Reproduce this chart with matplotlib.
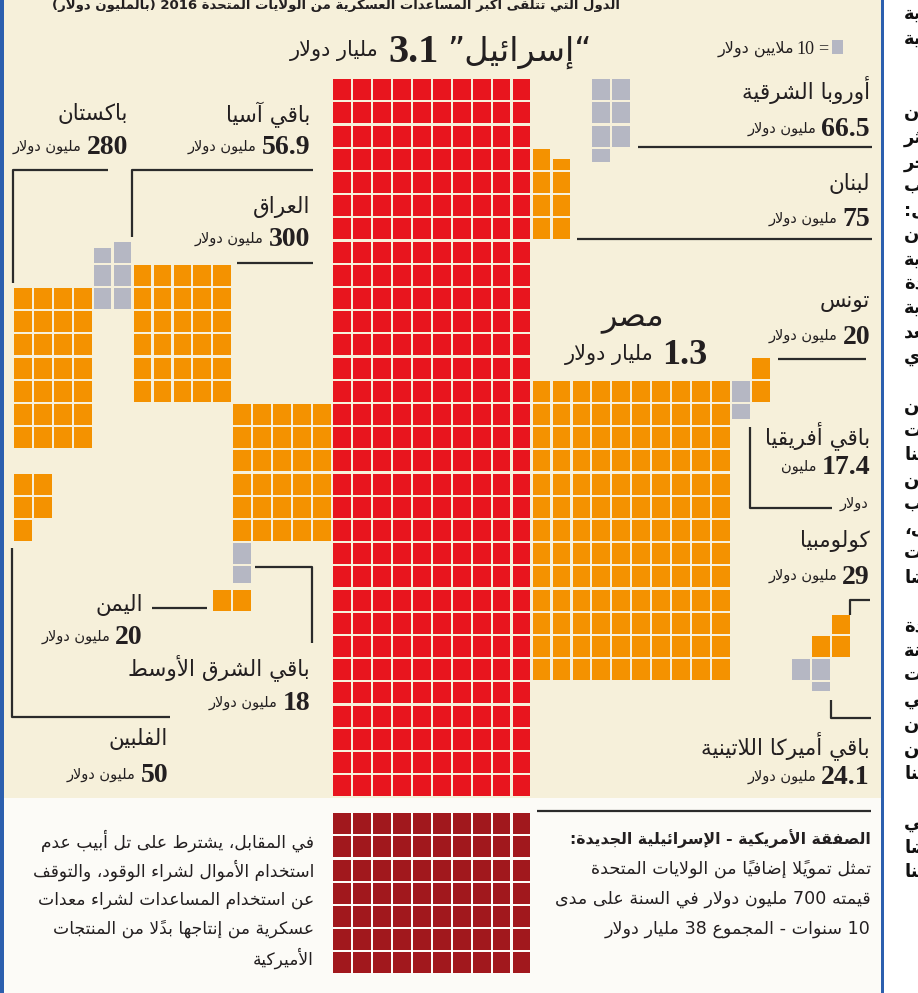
import unicodedata
import numpy as np
import matplotlib
matplotlib.use("Agg")
import matplotlib.pyplot as plt
from matplotlib.patches import Rectangle

# US military aid 2016, million dollars (one square = 10 million)
countries = ["إسرائيل", "مصر", "العراق", "", "باكستان", "لبنان", "أوروبا الشرقية",
             "باقي آسيا", "الفلبين", "كولومبيا", "باقي أميركا اللاتينية", "تونس",
             "اليمن", "باقي الشرق الأوسط", "باقي أفريقيا"]
aid_musd = [3100, 1300, 300, 300, 280, 75, 66.5, 56.9, 50, 29, 24.1, 20, 20, 18, 17.4]
is_region = [0, 0, 0, 0, 0, 0, 1, 1, 0, 0, 1, 0, 0, 1, 1]
new_deal_musd = 700
square_musd = 10

title = "الدول التي تتلقى أكبر المساعدات العسكرية من الولايات المتحدة 2016 (بالمليون دولار)"
deal_title = "الصفقة الأمريكية - الإسرائيلية الجديدة:"
deal_lines = ["تمثل تمويلاً إضافياً من الولايات المتحدة",
              "قيمته 700 مليون دولار في السنة على مدى",
              "10 سنوات - المجموع 38 مليار دولار"]
terms_lines = ["في المقابل، يشترط على تل أبيب عدم",
               "استخدام الأموال لشراء الوقود، والتوقف",
               "عن استخدام المساعدات لشراء معدات",
               "عسكرية من إنتاجها بدلاً من المنتجات",
               "الأميركية"]
# next newspaper column, cut by the page edge
side_words = ["الإسرائيلية", "السنوية", "", "", "إن", "أكثر", "آخر", "كتب", "قال:", "بأن",
              "الأميركية", "الجديدة", "الاتفاقية", "بعد", "العسكري", "", "من", "كانت", "هنا",
              "لكن", "تكتب", "قال،", "كانت", "أيضا", "", "المتحدة", "السنة", "كانت", "التي",
              "إن", "لكن", "هنا", "", "والتي", "أيضا", "هنا"]

# ---------- minimal arabic shaping (matplotlib has no bidi) ----------
FORMS = {'ء': (0xFE80, 1), 'آ': (0xFE81, 2), 'أ': (0xFE83, 2), 'ؤ': (0xFE85, 2),
         'إ': (0xFE87, 2), 'ئ': (0xFE89, 4), 'ا': (0xFE8D, 2), 'ب': (0xFE8F, 4),
         'ة': (0xFE93, 2), 'ت': (0xFE95, 4), 'ث': (0xFE99, 4), 'ج': (0xFE9D, 4),
         'ح': (0xFEA1, 4), 'خ': (0xFEA5, 4), 'د': (0xFEA9, 2), 'ذ': (0xFEAB, 2),
         'ر': (0xFEAD, 2), 'ز': (0xFEAF, 2), 'س': (0xFEB1, 4), 'ش': (0xFEB5, 4),
         'ص': (0xFEB9, 4), 'ض': (0xFEBD, 4), 'ط': (0xFEC1, 4), 'ظ': (0xFEC5, 4),
         'ع': (0xFEC9, 4), 'غ': (0xFECD, 4), 'ف': (0xFED1, 4), 'ق': (0xFED5, 4),
         'ك': (0xFED9, 4), 'ل': (0xFEDD, 4), 'م': (0xFEE1, 4), 'ن': (0xFEE5, 4),
         'ه': (0xFEE9, 4), 'و': (0xFEED, 2), 'ى': (0xFEEF, 2), 'ي': (0xFEF1, 4)}
LAM_ALEF = {'آ': 0xFEF5, 'أ': 0xFEF7, 'إ': 0xFEF9, 'ا': 0xFEFB}
MIRROR = {'(': ')', ')': '('}


def shape_word(word):
    cl = []
    for ch in word:
        if unicodedata.combining(ch) and cl:
            cl[-1][1] += ch
        else:
            cl.append([ch, ''])
    merged = []
    i = 0
    while i < len(cl):
        if cl[i][0] == 'ل' and i + 1 < len(cl) and cl[i + 1][0] in LAM_ALEF:
            merged.append(['LA' + cl[i + 1][0], cl[i][1] + cl[i + 1][1]])
            i += 2
        else:
            merged.append(cl[i])
            i += 1

    def nforms(b):
        if b.startswith('LA'):
            return 2
        return FORMS.get(b, (0, 0))[1]

    out = []
    for i, (b, m) in enumerate(merged):
        n = nforms(b)
        prev = merged[i - 1][0] if i > 0 else None
        nxt = merged[i + 1][0] if i + 1 < len(merged) else None
        jp = n >= 2 and prev is not None and nforms(prev) == 4
        jn = n == 4 and nxt is not None and nforms(nxt) >= 1
        if b.startswith('LA'):
            g = chr(LAM_ALEF[b[2]] + (1 if jp else 0))
        elif n == 0:
            g = MIRROR.get(b, b)
        else:
            base = FORMS[b][0]
            k = 3 if (jp and jn) else 1 if jp else 2 if jn else 0
            g = chr(base + k)
        out.append(g + m)
    return ''.join(reversed(out))


def rtl(text):
    words = []
    for w in text.split(' '):
        if any('\u0600' <= c <= '\u06FF' for c in w):
            words.append(shape_word(w))
        else:
            words.append(w)
    return ' '.join(reversed(words))


# ---------- figure ----------
fig = plt.figure(figsize=(9.18, 9.93), dpi=100)
ax = fig.add_axes([0, 0, 1, 1])
ax.set_xlim(0, 918)
ax.set_ylim(993, 0)
ax.axis("off")
rend = fig.canvas.get_renderer()

AR = ["DejaVu Sans"]
NUM = ["Liberation Serif", "DejaVu Serif"]
INK = "#231f20"
ORANGE = "#f49200"
GRAY = "#b5b7c3"
RED = "#e8151e"
DARKRED = "#a1181d"

ax.add_patch(Rectangle((4, 0), 878, 798, color="#f6f0da", lw=0))
ax.add_patch(Rectangle((4, 798), 878, 195, color="#fcfbf7", lw=0))
ax.add_patch(Rectangle((0, 0), 3.5, 993, color="#2c5fae", lw=0))
ax.add_patch(Rectangle((881, 0), 2.5, 993, color="#2c5fae", lw=0))

X0, PX, Y0, PY, GAP = 332, 19.95, 78, 23.2, 2.2


def draw_block(value, col, row, ncols, down, lead_left, color, y0=Y0):
    n = value / square_musd
    full = int(n + 1e-9)
    frac = n - full
    for i in range(int(np.ceil(n - 1e-9))):
        r_i, c_i = divmod(i, ncols)
        c = col + (c_i if lead_left else ncols - 1 - c_i)
        r = row + r_i if down else row - r_i
        f = 1.0 if i < full else frac
        h = (PY - GAP) * f
        x = X0 + c * PX + GAP / 2
        y = y0 + r * PY + GAP / 2 if down else y0 + (r + 1) * PY - GAP / 2 - h
        ax.add_patch(Rectangle((x, y), PX - GAP, h, color=color, lw=0))


# grid placement: col, row, ncols, top-down, fill-from-left
place = [(0, 0, 10, 1, 1), (10, 13, 10, 1, 1), (-10, 8, 5, 1, 1), (-5, 14, 5, 1, 1),
         (-16, 9, 4, 1, 1), (10, 6, 2, 0, 1), (13, 0, 2, 1, 1), (-12, 9, 2, 0, 0),
         (-16, 17, 2, 1, 1), (24, 24, 2, 0, 0), (23, 25, 2, 1, 0), (21, 12, 1, 1, 1),
         (-6, 22, 2, 1, 1), (-5, 20, 1, 1, 1), (20, 13, 1, 1, 1)]
for k, v in enumerate(aid_musd):
    col = RED if k == 0 else (GRAY if is_region[k] else ORANGE)
    c, r, nc, dn, ll = place[k]
    draw_block(v, c, r, nc, dn, ll, col)
draw_block(new_deal_musd, 0, 0, 10, 1, 1, DARKRED, y0=812)


def rtl_parts(x, y, parts, gap=5):
    for txt, kw in parts:
        t = ax.text(x, y, txt, ha="right", va="center_baseline", color=INK, **kw)
        x -= t.get_window_extent(renderer=rend).width + gap
    return x


def amount(v):
    if v >= 1000:
        return f"{v / 1000:g}", "مليار دولار"
    return f"{v:g}", "مليون دولار"


NAME = dict(family=AR, fontsize=15.5)
UNIT = dict(family=AR, fontsize=10.5)
BIG = dict(family=NUM, fontsize=20, fontweight="bold")

# label anchor: right edge x, name baseline, value baseline
labels = {2: (310, 205, 237), 4: (128, 112, 145), 5: (870, 181, 217), 6: (870, 88, 127),
          7: (310, 112, 145), 8: (168, 737, 773), 9: (870, 538, 574), 10: (870, 743, 775),
          11: (870, 300, 334), 12: (143, 603, 635), 13: (310, 665, 701), 14: (870, 433, 465)}
for k, (xr, yn, yv) in labels.items():
    num, unit = amount(aid_musd[k])
    rtl_parts(xr, yn, [(rtl(countries[k]), NAME)])
    if k == 14:
        rtl_parts(xr, yv, [(num, BIG), (rtl("مليون"), UNIT)])
        rtl_parts(xr - 2, 502, [(rtl("دولار"), UNIT)])
    else:
        rtl_parts(xr, yv, [(num, BIG), (rtl(unit), UNIT)])

# headline blocks
num, unit = amount(aid_musd[0])
rtl_parts(592, 48, [("”" + rtl(countries[0]) + "“", dict(family=AR, fontsize=24)),
                    (num, dict(family=NUM, fontsize=29, fontweight="bold")),
                    (rtl(unit), dict(family=AR, fontsize=15))], gap=9)
num, unit = amount(aid_musd[1])
ax.text(633, 315, rtl(countries[1]), ha="center", va="center_baseline", color=INK,
        family=AR, fontsize=23)
rtl_parts(707, 352, [(num, dict(family=NUM, fontsize=26, fontweight="bold")),
                     (rtl(unit), dict(family=AR, fontsize=15))], gap=8)

# legend square
ax.add_patch(Rectangle((832, 40), 11, 14, color=GRAY, lw=0))
rtl_parts(828, 47, [("=", dict(family=NUM, fontsize=13)),
                    (str(square_musd), dict(family=NUM, fontsize=13)),
                    (rtl("ملايين دولار"), dict(family=AR, fontsize=11.5))], gap=3)

# cut title at the top, sized to span the same width as the printed one
tt = ax.text(620, 4, rtl(title), ha="right", va="center", color=INK, family=AR,
             fontsize=12, fontweight="bold")
tw = tt.get_window_extent(renderer=rend).width
tt.set_fontsize(12 * 565 / tw)

# leader lines
LN = dict(color="#2b2b2b", lw=1.6, solid_capstyle="butt")
leaders = [([13, 13, 108], [283, 170, 170]), ([132, 132, 313], [237, 170, 170]),
           ([237, 313], [263, 263]), ([638, 872], [147, 147]), ([577, 872], [239, 239]),
           ([778, 866], [359, 359]), ([750, 750, 832], [427, 508, 508]),
           ([850, 850, 870], [615, 600, 600]), ([831, 831, 871], [700, 718, 718]),
           ([255, 312, 312], [567, 567, 643]), ([152, 207], [608, 608]),
           ([12, 12, 170], [548, 717, 717]), ([537, 871], [811, 811])]
for xs, ys in leaders:
    ax.plot(xs, ys, **LN)

# notes below
PARA = dict(family=AR, fontsize=12.6)
rtl_parts(871, 837, [(rtl(deal_title), dict(family=AR, fontsize=11.3, fontweight="bold"))])
for i, line in enumerate(deal_lines):
    rtl_parts(871, 867 + 30 * i, [(rtl(line), PARA)])
for i, line in enumerate(terms_lines):
    rtl_parts(314, 839 + 29.3 * i, [(rtl(line), dict(family=AR, fontsize=12.3))])

# neighbouring column
for i, w in enumerate(side_words):
    if w:
        ax.text(904, 14 + 24.5 * i, rtl(w), ha="left", va="center", color="#111111",
                family=AR, fontsize=13, fontweight="bold")

fig.savefig("out.png", dpi=100)
